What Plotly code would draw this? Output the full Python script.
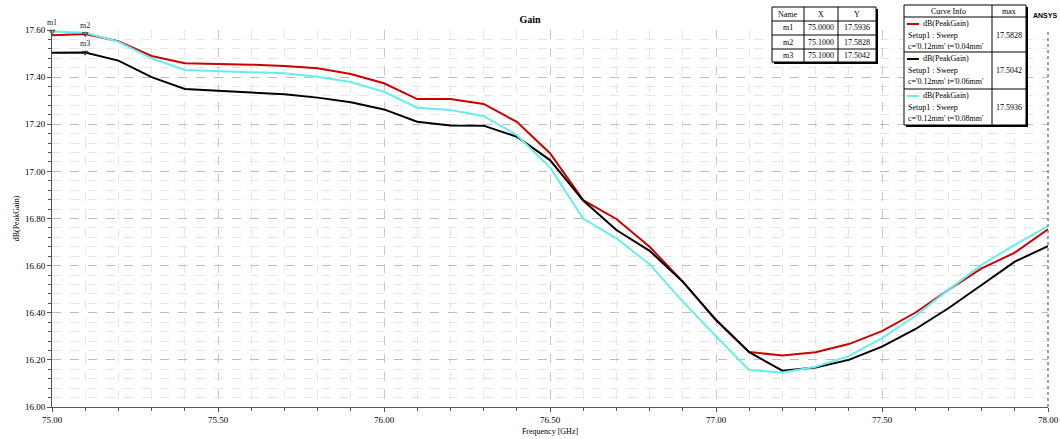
import plotly.graph_objects as go

freq = [75.0, 75.1, 75.2, 75.3, 75.4, 75.5, 75.6, 75.7, 75.8, 75.9,
        76.0, 76.1, 76.2, 76.3, 76.4, 76.5, 76.6, 76.7, 76.8, 76.9,
        77.0, 77.1, 77.2, 77.3, 77.4, 77.5, 77.6, 77.7, 77.8, 77.9, 78.0]

gain_t004 = [17.578, 17.5828, 17.552, 17.490, 17.459, 17.457, 17.453, 17.447, 17.438, 17.413,
             17.374, 17.307, 17.307, 17.286, 17.210, 17.077, 16.878, 16.798, 16.680, 16.532,
             16.368, 16.233, 16.219, 16.232, 16.267, 16.322, 16.400, 16.497, 16.588, 16.655, 16.754]

gain_t006 = [17.503, 17.5042, 17.470, 17.400, 17.350, 17.342, 17.334, 17.327, 17.313, 17.293,
             17.263, 17.211, 17.195, 17.194, 17.147, 17.048, 16.876, 16.751, 16.663, 16.532,
             16.370, 16.233, 16.154, 16.168, 16.200, 16.256, 16.330, 16.419, 16.518, 16.617, 16.683]

gain_t008 = [17.5936, 17.588, 17.550, 17.480, 17.430, 17.426, 17.420, 17.416, 17.402, 17.379,
             17.338, 17.270, 17.260, 17.235, 17.154, 17.017, 16.800, 16.716, 16.606, 16.447,
             16.300, 16.157, 16.146, 16.171, 16.216, 16.292, 16.386, 16.497, 16.603, 16.688, 16.768]

series_names = ["c='0.12mm' t='0.04mm'", "c='0.12mm' t='0.06mm'", "c='0.12mm' t='0.08mm'"]
series_colors = ["#cc0000", "#000000", "#66eeee"]
series_max = ["17.5828", "17.5042", "17.5936"]

marker_names = ["m1", "m2", "m3"]
marker_x = [75.0, 75.1, 75.1]
marker_y = [17.5936, 17.5828, 17.5042]
marker_x_txt = ["75.0000", "75.1000", "75.1000"]
marker_y_txt = ["17.5936", "17.5828", "17.5042"]

SERIF = "Liberation Serif"

# plot area in page pixels
L, R, T, B = 52, 1048, 30, 407


def px(x):
    return (x - L) / (R - L)


def py(y):
    return (B - y) / (B - T)


fig = go.Figure()
for vals, name, col in zip([gain_t004, gain_t006, gain_t008], series_names, series_colors):
    fig.add_trace(go.Scatter(x=freq, y=vals, mode="lines", name=name,
                             line=dict(color=col, width=2), showlegend=False))

fig.add_trace(go.Scatter(x=marker_x, y=marker_y, mode="markers+text", text=marker_names,
                         textposition="top center", textfont=dict(family=SERIF, size=8, color="#222"),
                         marker=dict(symbol="triangle-down-open", size=5, color="#333",
                                     line=dict(width=1, color="#333")),
                         showlegend=False, cliponaxis=False))

shapes = []
annos = []

# right border (dotted)
shapes.append(dict(type="line", xref="paper", yref="paper", x0=1, x1=1, y0=0, y1=1,
                   line=dict(color="#444", width=1, dash="dot")))


def box(x0, y0, x1, y1):
    # shadow
    shapes.append(dict(type="rect", xref="paper", yref="paper",
                       x0=px(x0 + 2), x1=px(x1 + 2), y0=py(y1 + 2), y1=py(y0 + 2),
                       fillcolor="#000", line=dict(width=0)))
    shapes.append(dict(type="rect", xref="paper", yref="paper",
                       x0=px(x0), x1=px(x1), y0=py(y1), y1=py(y0),
                       fillcolor="white", line=dict(color="#000", width=1)))


def hline(x0, x1, y):
    shapes.append(dict(type="line", xref="paper", yref="paper", x0=px(x0), x1=px(x1),
                       y0=py(y), y1=py(y), line=dict(color="#000", width=1)))


def vline(x, y0, y1):
    shapes.append(dict(type="line", xref="paper", yref="paper", x0=px(x), x1=px(x),
                       y0=py(y0), y1=py(y1), line=dict(color="#000", width=1)))


def text(x, y, s, anchor="center", size=8, bold=False, family=SERIF):
    annos.append(dict(xref="paper", yref="paper", x=px(x), y=py(y), text=("<b>%s</b>" % s) if bold else s,
                      showarrow=False, xanchor=anchor, yanchor="middle",
                      font=dict(family=family, size=size, color="#000")))


# marker table
mx = [772, 804, 838, 876]
my = [7, 21, 35, 49, 62]
box(mx[0], my[0], mx[-1], my[-1])
for yy in my[1:-1]:
    hline(mx[0], mx[-1], yy)
for xx in mx[1:-1]:
    vline(xx, my[0], my[-1])
text((mx[0] + mx[1]) / 2, 14.5, "Name")
text((mx[1] + mx[2]) / 2, 14.5, "X")
text((mx[2] + mx[3]) / 2, 14.5, "Y")
for i in range(3):
    yc = (my[i + 1] + my[i + 2]) / 2
    text((mx[0] + mx[1]) / 2, yc, marker_names[i])
    text((mx[1] + mx[2]) / 2, yc, marker_x_txt[i])
    text((mx[2] + mx[3]) / 2, yc, marker_y_txt[i])

# curve info table
cx = [904, 992, 1026]
cy = [5, 17, 52, 89, 125]
box(cx[0], cy[0], cx[-1], cy[-1])
for yy in cy[1:-1]:
    hline(cx[0], cx[-1], yy)
vline(cx[1], cy[0], cy[-1])
text(948, 11.5, "Curve Info")
text(1009, 11.5, "max")
for i in range(3):
    top = cy[i + 1]
    shapes.append(dict(type="line", xref="paper", yref="paper", x0=px(907), x1=px(919),
                       y0=py(top + 7), y1=py(top + 7), line=dict(color=series_colors[i], width=2)))
    text(946, top + 7, "dB(PeakGain)")
    text(906, top + 18, "Setup1 : Sweep", anchor="left")
    text(906, top + 29, series_names[i], anchor="left")
    text(1009, top + 19, series_max[i])

text(1045, 16, "ANSYS", size=7, bold=True, family="Liberation Sans")

fig.update_layout(
    width=1060, height=439, autosize=False,
    margin=dict(l=L, r=1060 - R, t=T, b=439 - B, autoexpand=False),
    paper_bgcolor="white", plot_bgcolor="white",
    title=dict(text="<b>Gain</b>", x=0.5, xanchor="center", y=1 - 19 / 439, yanchor="middle",
               font=dict(family=SERIF, size=10, color="#000")),
    shapes=shapes, annotations=annos,
    font=dict(family=SERIF, size=9, color="#000"),
)

fig.update_xaxes(
    automargin=False,
    range=[75.0, 78.0], dtick=0.5, tick0=75.0, tickformat=".2f",
    showline=True, linecolor="#555", linewidth=1, mirror=False,
    ticks="outside", ticklen=4, tickcolor="#555",
    showgrid=True, gridcolor="#c8c8c8", griddash="dash", gridwidth=1,
    zeroline=False,
    minor=dict(dtick=0.1, tick0=75.0, showgrid=True, gridcolor="#e6e6e6", griddash="dash",
               ticks="outside", ticklen=3, tickcolor="#555"),
    tickfont=dict(family=SERIF, size=9, color="#000"),
    title=dict(text="Frequency [GHz]", font=dict(family=SERIF, size=8, color="#000"), standoff=4),
)

fig.update_yaxes(
    automargin=False,
    range=[16.0, 17.6], dtick=0.2, tick0=16.0, tickformat=".2f",
    showline=True, linecolor="#555", linewidth=1, mirror=False,
    ticks="outside", ticklen=4, tickcolor="#555",
    showgrid=True, gridcolor="#bdbdbd", griddash="dash", gridwidth=1,
    zeroline=False,
    minor=dict(dtick=0.04, tick0=16.0, showgrid=True, gridcolor="#e6e6e6", griddash="dash",
               ticks="outside", ticklen=3, tickcolor="#555"),
    tickfont=dict(family=SERIF, size=9, color="#000"),
    title=dict(text="dB(PeakGain)", font=dict(family=SERIF, size=8, color="#000"), standoff=4),
)

fig.write_html(
    "out.html",
    config={"displayModeBar": False, "responsive": False},
    post_script=("document.documentElement.style.margin='0';"
                 "document.documentElement.style.padding='0';"
                 "document.documentElement.style.overflow='hidden';"
                 "document.body.style.margin='0';"
                 "document.body.style.padding='0';"
                 "document.body.style.overflow='hidden';"),
)
